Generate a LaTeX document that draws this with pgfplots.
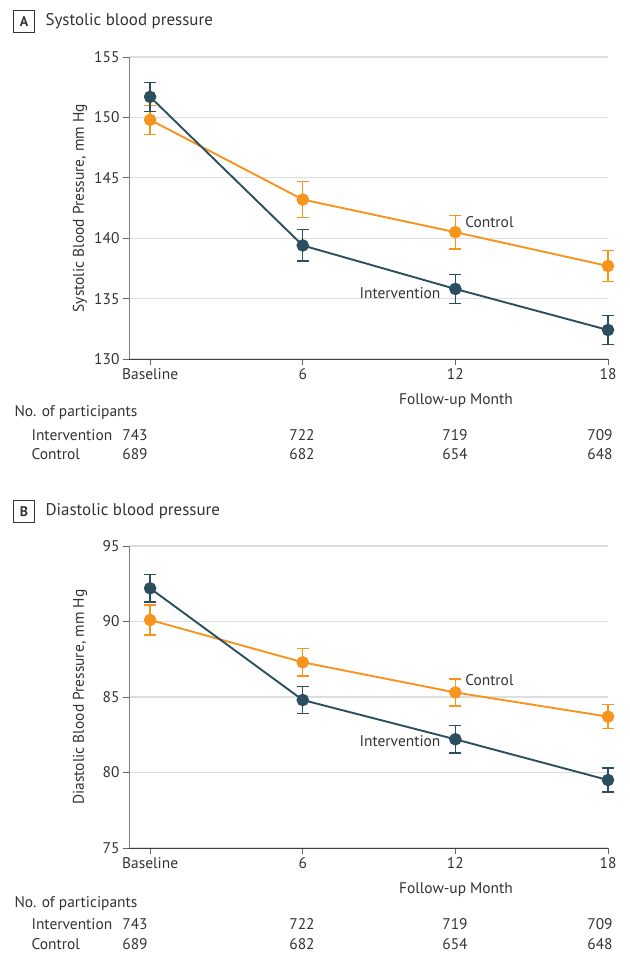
\documentclass[border=0pt]{standalone}
\usepackage{fontspec}
\setmainfont{PT Sans}
\usepackage{pgfplots}
\pgfplotsset{compat=1.18}
\definecolor{intcol}{HTML}{2B4F5E}
\definecolor{ctlcol}{HTML}{F7941D}
\definecolor{gridcol}{HTML}{DDDDDD}
\definecolor{txtcol}{HTML}{333333}
\newcommand{\tfont}{\fontsize{15.5}{18}\selectfont}

\pgfplotsset{bpstyle/.style={
  scale only axis, width=479bp, height=302bp,
  xmin=-0.83, xmax=18,
  axis x line=bottom, axis y line=left,
  axis line style={-, line width=1bp},
  x axis line style={black!75},
  y axis line style={black!50},
  xtick={0,6,12,18}, xticklabels={Baseline,6,12,18},
  tick align=outside, major tick length=6bp,
  tick style={black!60, line width=1bp},
  ymajorgrids, grid style={gridcol, line width=1.3bp},
  tick label style={font=\tfont, text=txtcol},
  /pgf/number format/assume math mode=true,
  clip=false,
  every axis plot/.append style={line width=1.9bp},
  error bars/y dir=both, error bars/y explicit,
  error bars/error bar style={line width=1.4bp},
  error bars/error mark options={rotate=90, mark size=6bp, line width=1.4bp},
}}

\begin{document}
\begin{tikzpicture}
\useasboundingbox (0bp,0bp) rectangle (630bp,-967bp);

% ---------------- Panel A ----------------
\node[draw=txtcol, line width=0.9bp, minimum width=21bp, minimum height=22bp, inner sep=0pt, font=\fontsize{14}{16}\selectfont\bfseries, text=txtcol] at (24bp,-21.5bp) {A};
\node[anchor=west, font=\fontsize{17}{20}\selectfont, text=txtcol] at (42bp,-21bp) {Systolic blood pressure};

\begin{axis}[bpstyle, at={(129bp,-359bp)}, anchor=south west,
  ymin=130, ymax=155, ytick={130,135,...,155}]
\addplot[ctlcol, mark=*, mark size=5.3bp,
  error bars/error bar style={ctlcol}]
  table[x=x, y=y, y error plus=e, y error minus=e] {
x y e
0 149.8 1.2
6 143.2 1.5
12 140.5 1.4
18 137.7 1.3
};
\addplot[intcol, mark=*, mark size=5.3bp,
  error bars/error bar style={intcol}]
  table[x=x, y=y, y error plus=e, y error minus=e] {
x y e
0 151.7 1.2
6 139.4 1.3
12 135.8 1.2
18 132.4 1.2
};
\node[anchor=west, font=\tfont, text=txtcol] at (axis cs:12.25,141.3) {Control};
\node[anchor=east, font=\tfont, text=txtcol] at (axis cs:11.55,135.45) {Intervention};
\end{axis}

\node[rotate=90, font=\tfont, text=txtcol] at (80bp,-208bp) {Systolic Blood Pressure, mm Hg};
\node[font=\tfont, text=txtcol] at (456bp,-401bp) {Follow-up Month};
\node[anchor=west, font=\tfont, text=txtcol] at (11bp,-413bp) {No. of participants};
\node[anchor=west, font=\tfont, text=txtcol] at (28bp,-435bp) {Intervention};
\node[anchor=west, font=\tfont, text=txtcol] at (28bp,-454bp) {Control};
\foreach \xx/\a/\b in {135/743/689, 302/722/682, 455/719/654, 600/709/648} {
  \node[font=\tfont, text=txtcol] at (\xx bp,-435bp) {\a};
  \node[font=\tfont, text=txtcol] at (\xx bp,-454bp) {\b};
}

% ---------------- Panel B ----------------
\node[draw=txtcol, line width=0.9bp, minimum width=21bp, minimum height=22bp, inner sep=0pt, font=\fontsize{14}{16}\selectfont\bfseries, text=txtcol] at (24bp,-511.5bp) {B};
\node[anchor=west, font=\fontsize{17}{20}\selectfont, text=txtcol] at (42bp,-511bp) {Diastolic blood pressure};

\begin{axis}[bpstyle, at={(129bp,-848bp)}, anchor=south west,
  ymin=75, ymax=95, ytick={75,80,...,95}]
\addplot[ctlcol, mark=*, mark size=5.3bp,
  error bars/error bar style={ctlcol}]
  table[x=x, y=y, y error plus=e, y error minus=e] {
x y e
0 90.1 1.0
6 87.3 0.9
12 85.3 0.9
18 83.7 0.8
};
\addplot[intcol, mark=*, mark size=5.3bp,
  error bars/error bar style={intcol}]
  table[x=x, y=y, y error plus=e, y error minus=e] {
x y e
0 92.2 0.9
6 84.8 0.9
12 82.2 0.9
18 79.5 0.8
};
\node[anchor=west, font=\tfont, text=txtcol] at (axis cs:12.25,86.1) {Control};
\node[anchor=east, font=\tfont, text=txtcol] at (axis cs:11.55,82.1) {Intervention};
\end{axis}

\node[rotate=90, font=\tfont, text=txtcol] at (80bp,-697bp) {Diastolic Blood Pressure, mm Hg};
\node[font=\tfont, text=txtcol] at (456bp,-890bp) {Follow-up Month};
\node[anchor=west, font=\tfont, text=txtcol] at (11bp,-904bp) {No. of participants};
\node[anchor=west, font=\tfont, text=txtcol] at (28bp,-924bp) {Intervention};
\node[anchor=west, font=\tfont, text=txtcol] at (28bp,-944bp) {Control};
\foreach \xx/\a/\b in {135/743/689, 302/722/682, 455/719/654, 600/709/648} {
  \node[font=\tfont, text=txtcol] at (\xx bp,-924bp) {\a};
  \node[font=\tfont, text=txtcol] at (\xx bp,-944bp) {\b};
}
\end{tikzpicture}
\end{document}
